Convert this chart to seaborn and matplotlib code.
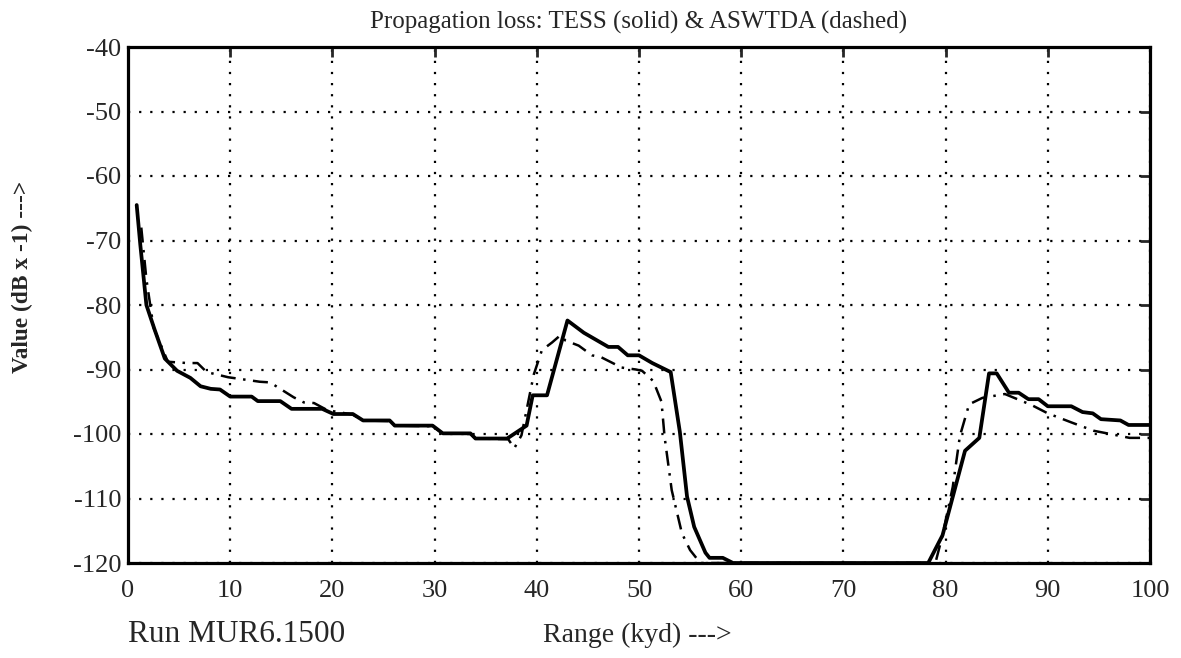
import pandas as pd
import matplotlib
matplotlib.use('Agg')
import matplotlib.pyplot as plt
import seaborn as sns

# TESS (solid)
tess_x = [0.85, 1.2, 1.8, 2.6, 3.6, 4.8, 6.1, 7.1, 8.1, 9.0,
          10.0, 12.1, 12.7, 14.9, 16.0, 19.0, 20.1, 22.0, 23.0, 25.6,
          26.1, 29.8, 30.8, 33.5, 34.0, 37.1, 39.0, 39.6, 41.0, 43.0,
          44.6, 47.0, 47.95, 48.9, 50.0, 51.3, 53.1, 54.0, 54.7, 55.4,
          56.5, 56.9, 58.2, 59.2, 78.3, 79.7, 81.9, 83.3, 84.25, 85.0,
          86.2, 87.15, 88.1, 89.1, 90.0, 92.3, 93.4, 94.4, 95.2, 97.1,
          97.9, 100.0]
tess_y = [-64.5, -70.6, -80.0, -83.8, -88.3, -90.2, -91.3, -92.6, -93.0, -93.1,
          -94.2, -94.2, -94.9, -94.9, -96.1, -96.1, -96.9, -96.9, -97.9, -97.9,
          -98.7, -98.7, -99.9, -99.9, -100.7, -100.7, -98.7, -94.0, -94.0, -82.4,
          -84.3, -86.5, -86.5, -87.8, -87.8, -89.0, -90.4, -99.7, -109.7, -114.4,
          -118.4, -119.2, -119.2, -120, -120, -115.7, -102.6, -100.6, -90.6, -90.6,
          -93.6, -93.6, -94.6, -94.6, -95.7, -95.7, -96.6, -96.8, -97.7, -97.9,
          -98.6, -98.6]

# ASWTDA (dashed)
aswtda_x = [1.3, 1.8, 2.5, 3.9, 5.8, 6.8, 7.7, 9.8, 12.9, 13.9,
            14.9, 16.2, 17.2, 18.2, 19.5, 22.0, 23.0, 25.6, 26.1, 29.8,
            30.8, 33.5, 34.0, 37.2, 37.8, 38.5, 39.7, 40.5, 41.5, 42.3,
            42.8, 44.1, 45.4, 46.3, 48.3, 49.7, 50.3, 51.4, 52.2, 52.5,
            53.2, 54.2, 55.0, 56.0, 79.0, 79.7, 80.7, 81.4, 82.3, 83.6,
            85.8, 88.4, 90.0, 92.3, 94.5, 95.8, 98.0, 100.0]
aswtda_y = [-68.0, -76.0, -83.5, -88.8, -89.0, -89.0, -90.4, -91.2, -91.9, -92.0,
            -93.0, -94.3, -95.1, -95.2, -96.3, -97.0, -97.9, -98.0, -98.7, -98.8,
            -99.9, -100.0, -100.7, -100.8, -102.2, -100.2, -90.8, -87.0, -85.8, -84.7,
            -85.5, -86.3, -87.8, -88.1, -89.7, -90.0, -90.2, -91.8, -95.0, -100.4,
            -108.7, -115.4, -118.0, -120, -120, -115.7, -108.2, -100.3, -95.4, -94.4,
            -93.8, -95.5, -96.8, -98.2, -99.5, -99.9, -100.6, -100.6]

x_ticks = list(range(0, 101, 10))
y_ticks = list(range(-120, -39, 10))

sns.set_style('white')
plt.rcParams['font.family'] = ['Liberation Serif', 'DejaVu Serif']
plt.rcParams['axes.unicode_minus'] = False

tess = pd.DataFrame({'Range': tess_x, 'Value': tess_y})
aswtda = pd.DataFrame({'Range': aswtda_x, 'Value': aswtda_y})

fig = plt.figure(figsize=(11.81, 6.58), dpi=100)
ax = fig.add_axes([128 / 1181, 1 - 563 / 658, (1150 - 128) / 1181, (563 - 47) / 658])

sns.lineplot(x='Range', y='Value', data=aswtda, ax=ax, color='black', lw=1.8,
             linestyle=(0, (6, 3, 1, 3)), estimator=None, sort=False, clip_on=False)
sns.lineplot(x='Range', y='Value', data=tess, ax=ax, color='black', lw=2.7,
             estimator=None, sort=False, clip_on=False)

ax.set_xlim(0, 100)
ax.set_ylim(-120, -40)
ax.set_xticks(x_ticks)
ax.set_yticks(y_ticks)
ax.grid(True, color='black', linestyle=(0, (1, 4)), linewidth=1.6)
ax.tick_params(axis='both', direction='in', length=7, width=2, labelsize=19,
               top=True, right=True)
ax.tick_params(axis='x', pad=12)
ax.tick_params(axis='y', pad=5)
for s in ax.spines.values():
    s.set_visible(True)
    s.set_linewidth(2.3)
    s.set_color('black')
ax.set_xlabel('')
ax.set_ylabel('')

ax.set_title('Propagation loss: TESS (solid) & ASWTDA (dashed)', fontsize=18, pad=13)
fig.text(22 / 1181, 1 - 277 / 658, 'Value (dB x -1) --->', rotation=90,
         fontsize=16.8, fontweight='bold', ha='center', va='center')
fig.text(128 / 1181, 1 - 635 / 658, 'Run MUR6.1500', fontsize=22.5, ha='left', va='center')
fig.text(543 / 1181, 1 - 635 / 658, 'Range (kyd) --->', fontsize=20, ha='left', va='center')

fig.savefig('out.png', dpi=100)
